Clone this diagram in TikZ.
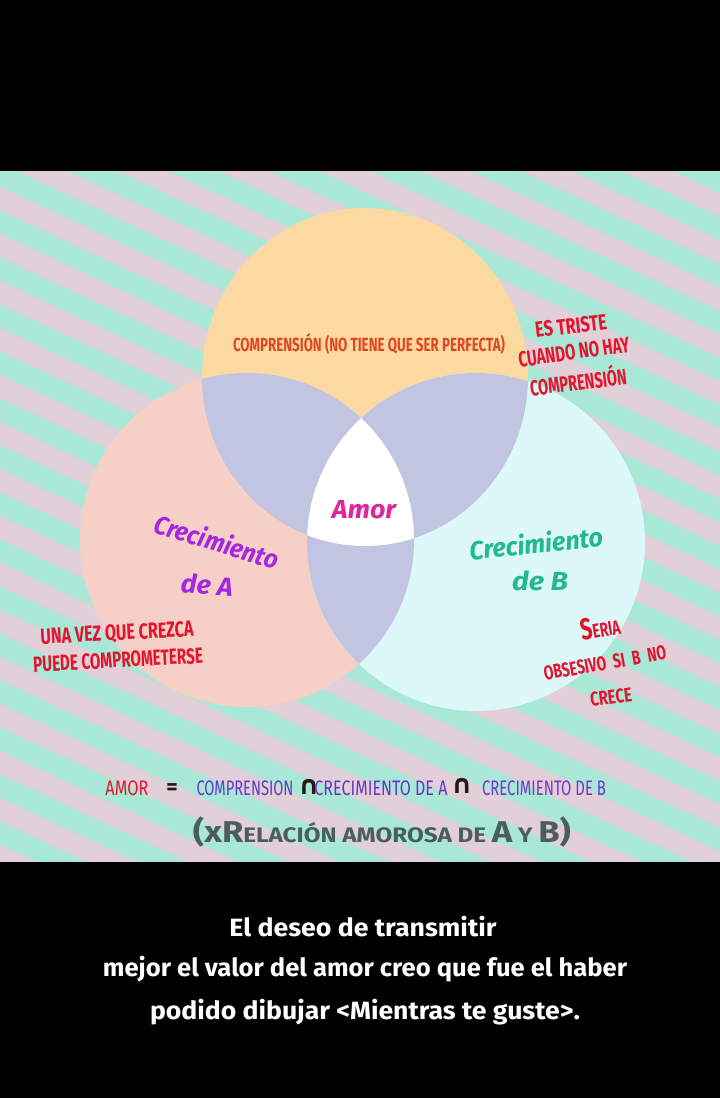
\documentclass[tikz,border=0pt]{standalone}
\usepackage{fontspec}
\setmainfont{Fira Sans}
\newfontfamily\dejavu{DejaVu Sans}
\definecolor{stripepink}{HTML}{E1D0D8}
\definecolor{mint}{HTML}{A9E8D7}
\definecolor{topyel}{HTML}{FDD9A2}
\definecolor{salmon}{HTML}{F6D0C7}
\definecolor{cyanc}{HTML}{DDF8F8}
\definecolor{lav}{HTML}{C1C5E2}
\definecolor{comprC}{HTML}{E2461F}
\definecolor{redC}{HTML}{E5142E}
\definecolor{purpC}{HTML}{A527DF}
\definecolor{magC}{HTML}{E0269E}
\definecolor{tealC}{HTML}{22B98F}
\definecolor{eqA}{HTML}{5B3CC4}
\definecolor{eqB}{HTML}{6A34C8}
\definecolor{eqC}{HTML}{7A34C8}
\definecolor{capC}{HTML}{2A1616}
\definecolor{slateC}{HTML}{4A5E5E}
\newcommand\wfit[2]{\resizebox{#1}{\height}{#2}}
\newcommand\fs[1]{\fontsize{#1}{#1}\selectfont}
\def\pTop{(365,377) ellipse [x radius=163, y radius=169]}
\def\pLeft{(247,540) circle [radius=167]}
\def\pRight{(476,542) circle [radius=169]}
\begin{document}
\begin{tikzpicture}[x=1pt,y=-1pt,
  lbl/.style={inner sep=0pt, anchor=center},
  capsred/.style={lbl, text=redC, font={\fs{22}\bfseries}},
  eqtxt/.style={lbl, font={\fs{21}}},
  brush/.style={lbl, font={\fs{26}\bfseries\itshape}},
  capsym/.style={lbl, text=capC, font={\dejavu\fs{26}\bfseries}}]
\useasboundingbox (0,0) rectangle (720,1098);
% striped background
\begin{scope}
  \clip (0,160) rectangle (720,870);
  \fill[stripepink] (0,160) rectangle (720,870);
  \foreach \k in {-9,...,15}
    \draw[mint, line width=21pt] (-50,{222+47*\k-23.3}) -- (770,{222+47*\k+358.8});
\end{scope}
% black bands
\fill[black] (0,0) rectangle (720,171);
\fill[black] (0,862) rectangle (720,1098);
% circles
\fill[topyel] \pTop;
\fill[salmon] \pLeft;
\fill[cyanc] \pRight;
\begin{scope}
  \clip \pTop;
  \fill[lav] \pLeft;
  \fill[lav] \pRight;
\end{scope}
\begin{scope}
  \clip \pLeft;
  \fill[lav] \pRight;
\end{scope}
\begin{scope}
  \clip \pTop;
  \clip \pLeft;
  \fill[white] \pRight;
\end{scope}
% labels in the circles
\node[lbl, text=comprC, font={\fs{19}\bfseries}] (comp) at (369,344) {\wfit{272pt}{COMPRENSIÓN (NO TIENE QUE SER PERFECTA)}};
\node[capsred, rotate=7] (tr1) at (571,326) {\wfit{72pt}{ES TRISTE}};
\node[capsred, rotate=8] (tr2) at (574,352) {\wfit{112pt}{CUANDO NO HAY}};
\node[capsred, rotate=7] (tr3) at (578,380) {\wfit{97pt}{COMPRENSIÓN}};
\node[brush, text=purpC, rotate=-17] (ca1) at (217,541) {\wfit{128pt}{Crecimiento}};
\node[brush, text=purpC, rotate=-4] (ca2) at (207,585) {\wfit{52pt}{de A}};
\node[brush, text=magC] (amor) at (364,510) {\wfit{64pt}{Amor}};
\node[brush, text=tealC, rotate=6] (cb1) at (536,543) {\wfit{134pt}{Crecimiento}};
\node[brush, text=tealC] (cb2) at (540,581) {\wfit{56pt}{de B}};
\node[capsred, rotate=3] (ua1) at (117,634) {\wfit{153pt}{UNA VEZ QUE CREZCA}};
\node[capsred, rotate=3] (ua2) at (118,660) {\wfit{170pt}{PUEDE COMPROMETERSE}};
\node[capsred, rotate=10] (se1) at (600,627) {\wfit{40pt}{{\fs{30}S}{\fs{20}ERIA}}};
\node[capsred, font={\fs{20}\bfseries}, rotate=10] (se2) at (605,663) {\wfit{124pt}{OBSESIVO\enspace SI\enspace B\enspace NO}};
\node[capsred, font={\fs{20}\bfseries}, rotate=7] (se3) at (611,697) {\wfit{42pt}{CRECE}};
% equation
\node[eqtxt, text=redC] (eq1) at (127,788) {\wfit{43pt}{AMOR}};
\node[lbl, text=capC, font={\fs{22}\bfseries}] (eq2) at (172,789) {=};
\node[eqtxt, text=eqA] (eq3) at (245,788) {\wfit{97pt}{COMPRENSION}};
\node[capsym] (cap1) at (309,787) {∩};
\node[eqtxt, text=eqB] (eq4) at (381,788) {\wfit{133pt}{CRECIMIENTO DE A}};
\node[capsym] (cap2) at (462,786) {∩};
\node[eqtxt, text=eqC] (eq5) at (544,788) {\wfit{124pt}{CRECIMIENTO DE B}};
\node[lbl, text=slateC, font={\bfseries}] (rel) at (382,832) {\wfit{378pt}{{\fs{30}(x}{\fs{30}R}{\fs{21}ELACIÓN AMOROSA DE }{\fs{30}A}{\fs{21} Y }{\fs{30}B)}}};
% bottom caption
\node[lbl, text=white, font={\fs{25}\bfseries}] (b1) at (363,927) {\wfit{267pt}{El deseo de transmitir}};
\node[lbl, text=white, font={\fs{25}\bfseries}] (b2) at (365,969) {\wfit{524pt}{mejor el valor del amor creo que fue el haber}};
\node[lbl, text=white, font={\fs{25}\bfseries}] (b3) at (365,1012) {\wfit{430pt}{podido dibujar <Mientras te guste>.}};
\end{tikzpicture}
\end{document}
